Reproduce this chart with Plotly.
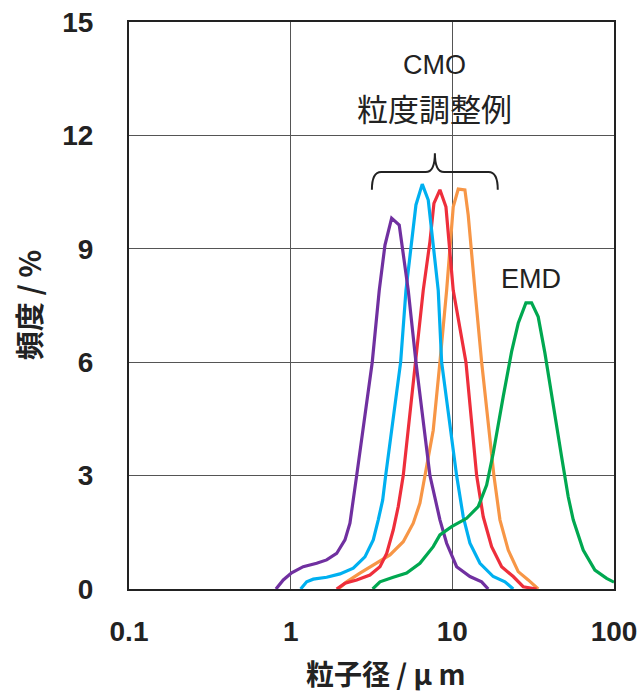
import numpy as np
import plotly.graph_objects as go

# particle size (um) and frequency (%)
purple_x = [0.811, 0.900, 1.014, 1.196, 1.448, 1.670, 1.925, 2.167, 2.326, 2.439, 2.560, 3.196, 3.531,
            3.831, 4.213, 4.694, 5.338, 5.955, 7.269, 8.381, 9.220, 10.63, 12.85, 15.18, 16.67]
purple_y = [0, 0.24, 0.43, 0.59, 0.68, 0.77, 0.94, 1.30, 1.74, 2.35, 3.0, 6.0, 7.9,
            9.1, 9.81, 9.63, 7.9, 6.0, 3.0, 1.83, 1.21, 0.59, 0.33, 0.19, 0]

cyan_x = [1.153, 1.256, 1.380, 1.670, 2.018, 2.439, 2.880, 3.242, 3.482, 3.707, 3.869, 4.789, 5.166,
          5.955, 6.515, 7.096, 8.181, 8.587, 10.63, 11.68, 12.85, 14.82, 17.90, 21.15, 23.81]
cyan_y = [0, 0.19, 0.26, 0.31, 0.40, 0.55, 0.85, 1.30, 1.83, 2.35, 3.0, 6.0, 7.9,
          10.16, 10.71, 10.29, 7.9, 6.0, 3.0, 1.91, 1.21, 0.68, 0.33, 0.19, 0]

red_x = [1.925, 2.167, 2.560, 3.093, 3.567, 3.925, 4.310, 4.628, 4.970, 5.955, 6.607, 7.269,
         7.694, 8.381, 9.129, 10.13, 12.14, 14.14, 15.53, 17.50, 20.18, 23.81, 27.45, 33.21]
red_y = [0, 0.15, 0.24, 0.37, 0.59, 0.94, 1.56, 2.18, 3.0, 6.0, 7.9, 9.19,
         10.2, 10.56, 10.11, 7.9, 6.0, 3.0, 1.91, 1.12, 0.59, 0.33, 0.06, 0]

orange_x = [1.970, 2.220, 2.683, 3.242, 4.113, 4.970, 5.731, 6.304, 6.768, 7.618, 8.381, 9.220,
            10.13, 10.88, 11.96, 12.54, 13.80, 15.18, 18.08, 19.70, 22.17, 25.56, 29.47, 33.98]
orange_y = [0, 0.19, 0.42, 0.63, 0.90, 1.25, 1.74, 2.27, 3.0, 4.2, 6.0, 7.9,
            10.11, 10.58, 10.56, 9.89, 7.9, 6.0, 3.0, 1.83, 1.03, 0.46, 0.24, 0]

green_x = [3.215, 3.567, 4.310, 5.216, 6.304, 7.618, 8.381, 9.90, 12.26, 14.46, 16.30, 17.90, 20.64,
           23.26, 25.56, 28.52, 30.93, 33.98, 37.39, 42.07, 47.41, 52.10, 55.95, 64.49, 76.18, 90.0, 100]
green_y = [0, 0.19, 0.31, 0.42, 0.68, 1.12, 1.43, 1.65, 1.87, 2.18, 2.75, 3.59, 5.09,
           6.28, 7.03, 7.57, 7.57, 7.20, 6.24, 4.82, 3.50, 2.44, 1.83, 1.03, 0.50, 0.28, 0.18]

x_tickvals = [0.1, 1, 10, 100]
x_ticktext = ["0.1", "1", "10", "100"]
y_tickvals = [0, 3, 6, 9, 12, 15]

series = [
    (orange_x, orange_y, "#F79646"),
    (red_x, red_y, "#EE2E3B"),
    (cyan_x, cyan_y, "#00B0F0"),
    (purple_x, purple_y, "#7030A0"),
    (green_x, green_y, "#00A850"),
]

fig = go.Figure()
for xs, ys, col in series:
    fig.add_trace(go.Scatter(x=xs, y=ys, mode="lines",
                             line=dict(color=col, width=3.2), showlegend=False,
                             hoverinfo="skip"))

tick_font = dict(family="Liberation Sans, Arial", size=28, color="#222", weight="bold")
cjk = "Noto Sans CJK JP, Noto Sans CJK SC, sans-serif"

fig.update_xaxes(type="log", range=[-1, 2], tickvals=x_tickvals, ticktext=x_ticktext,
                 showgrid=True, gridcolor="#555", gridwidth=1, ticks="",
                 showline=True, linecolor="#222", linewidth=2, mirror=True,
                 zeroline=False, tickfont=tick_font, ticklabelstandoff=16, automargin=False)
fig.update_yaxes(range=[0, 15], tickvals=y_tickvals,
                 showgrid=True, gridcolor="#555", gridwidth=1, ticks="",
                 showline=True, linecolor="#222", linewidth=2, mirror=True,
                 zeroline=False, tickfont=tick_font, ticklabelstandoff=28, automargin=False)

def px(xv):
    return (np.log10(xv) + 1) / 3.0

def py(yv):
    return yv / 15.0

# curly brace (decoration) in paper coords from data-space anchor values
xl, xr, xt = 3.18, 19.1, 7.8
yb, ym, yt = 10.56, 11.03, 11.53
lxl, lxr, lxt = px(xl), px(xr), px(xt)
d = 0.057 / 3
path = (f"M {lxl},{py(yb)} Q {lxl},{py(ym)} {lxl + d},{py(ym)} "
        f"L {lxt - d},{py(ym)} Q {lxt},{py(ym)} {lxt},{py(yt)} "
        f"Q {lxt},{py(ym)} {lxt + d},{py(ym)} "
        f"L {lxr - d},{py(ym)} Q {lxr},{py(ym)} {lxr},{py(yb)}")

ann = dict(xref="paper", yref="paper", showarrow=False, xanchor="center", yanchor="middle")

fig.update_layout(
    width=644, height=693,
    margin=dict(l=129, r=30, t=22, b=104),
    paper_bgcolor="white", plot_bgcolor="white",
    shapes=[
        dict(type="rect", xref="paper", yref="paper", x0=0.439, x1=0.825, y0=0.7795, y1=1.0,
             fillcolor="white", line=dict(width=0), layer="between"),
        dict(type="path", xref="paper", yref="paper", path=path,
             line=dict(color="#222", width=2), layer="above"),
    ],
    annotations=[
        dict(text="CMO", x=px(7.8), y=py(13.86), **ann,
             font=dict(family="Liberation Sans, Arial", size=27, color="#222")),
        dict(text="粒度調整例", x=px(7.8), y=py(12.75), **ann,
             font=dict(family=cjk, size=31, color="#222")),
        dict(text="EMD", x=px(30.5), y=py(8.2), **ann,
             font=dict(family="Liberation Sans, Arial", size=27, color="#222")),
        dict(text="粒子径 / μ m", x=0.53, y=-0.148, **ann,
             font=dict(family=cjk, size=28, color="#222", weight="bold")),
        dict(text="頻度 / %", x=-0.209, y=0.5, textangle=-90, **ann,
             font=dict(family=cjk, size=29, color="#222", weight="bold")),
    ],
)

fig.write_html("out.html", config={"displayModeBar": False},
               post_script="document.body.style.margin='0';document.body.style.overflow='hidden';")
